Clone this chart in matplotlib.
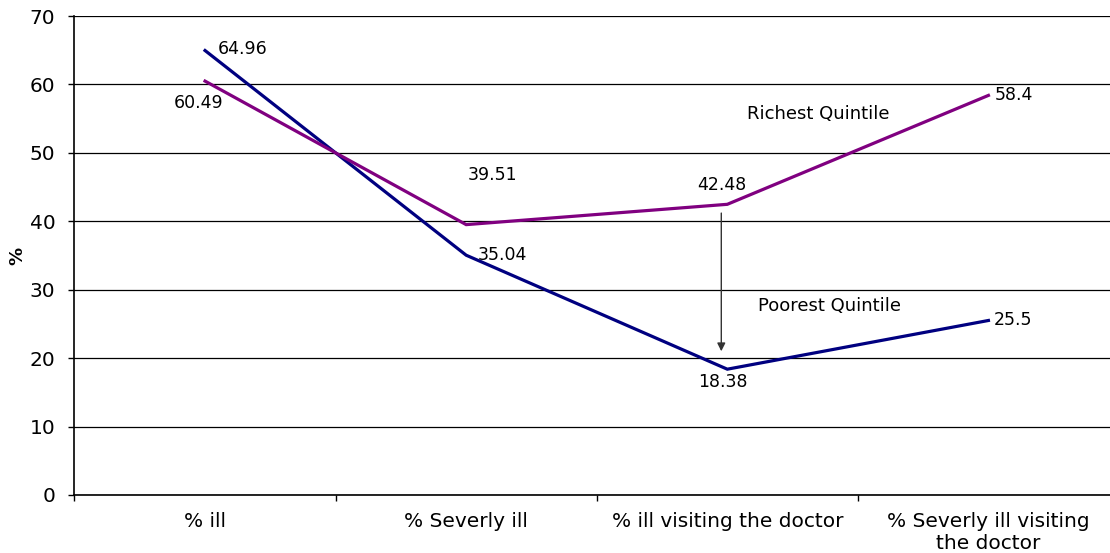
import matplotlib
matplotlib.use("Agg")
from matplotlib import pyplot as plt

categories = ["% ill", "% Severly ill", "% ill visiting the doctor", "% Severly ill visiting\nthe doctor"]
richest = [60.49, 39.51, 42.48, 58.4]
poorest = [64.96, 35.04, 18.38, 25.5]

# label offsets (points) from each point, text centred
rich_offsets = [(-5, -16), (19, 36), (-4, 14), (18, 0)]
poor_offsets = [(27, 1), (26, 0), (-3, -9), (18, 0)]


def fmt(v):
  return ("%.2f" % v).rstrip("0").rstrip(".")


def main():
  fig = plt.figure(figsize=(11.1, 5.53), dpi=100)
  ax = fig.add_axes([0.0671, 0.105, 0.941, 0.866])

  x = list(range(len(categories)))
  ax.plot(x, poorest, color="#000080", lw=2.3, solid_joinstyle="miter")
  ax.plot(x, richest, color="#800080", lw=2.3, solid_joinstyle="miter")

  for xi, v, off in zip(x, richest, rich_offsets):
    ax.annotate(fmt(v), (xi, v), xytext=off, textcoords="offset points",
                ha="center", va="center", fontsize=12.5)
  for xi, v, off in zip(x, poorest, poor_offsets):
    ax.annotate(fmt(v), (xi, v), xytext=off, textcoords="offset points",
                ha="center", va="center", fontsize=12.5)

  ax.text(2.349, 55.7, "Richest Quintile", ha="center", va="center", fontsize=13)
  ax.text(2.391, 27.6, "Poorest Quintile", ha="center", va="center", fontsize=13)

  ax.annotate("", xy=(1.977, 21.0), xytext=(1.977, 41.2),
              arrowprops=dict(arrowstyle="-|>", color="#333333", lw=1.0,
                              mutation_scale=12, shrinkA=0, shrinkB=0))

  ax.set_xlim(-0.5, 3.5)
  ax.set_ylim(0, 70)
  ax.set_yticks(range(0, 71, 10))
  ax.set_xticks(x)
  ax.set_xticklabels(categories, fontsize=14.5)
  ax.set_xticks([-0.5, 0.5, 1.5, 2.5, 3.5], minor=True)
  ax.tick_params(axis="x", which="major", length=0, pad=12)
  ax.tick_params(axis="x", which="minor", length=4, direction="out", width=1)
  ax.tick_params(axis="y", length=4.3, width=1, pad=9.5, labelsize=14.5)

  ax.grid(axis="y", color="black", lw=0.9)
  ax.set_axisbelow(True)
  for s in ["top", "right"]:
    ax.spines[s].set_visible(False)
  ax.spines["left"].set_linewidth(1.2)
  ax.spines["bottom"].set_linewidth(1.2)

  ax.set_ylabel("%", fontsize=13, fontweight="bold")
  ax.yaxis.set_label_coords(-0.0465, 0.5)

  fig.savefig("out.png", dpi=100)


if __name__ == "__main__":
  main()
